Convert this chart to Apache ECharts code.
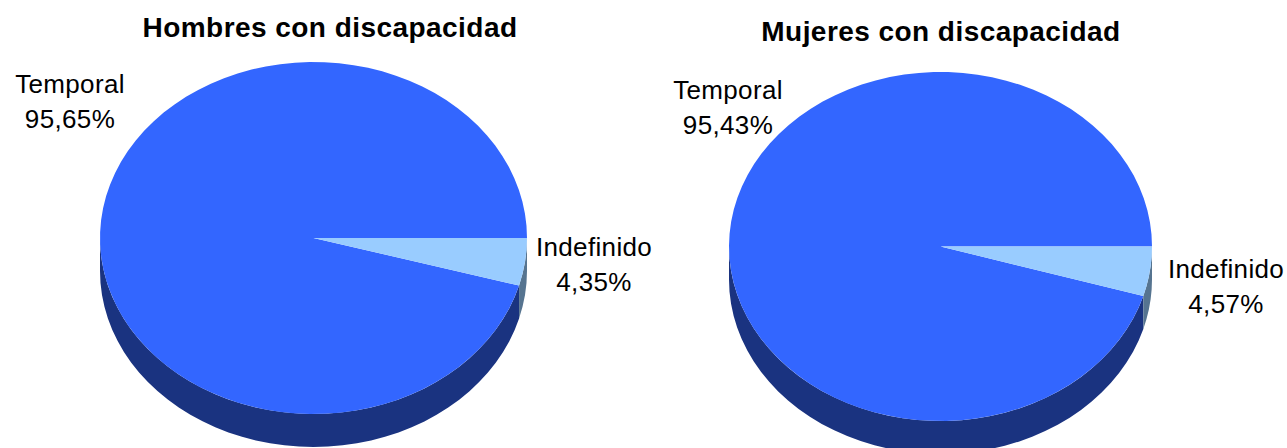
<!DOCTYPE html>
<html>
<head>
<meta charset="utf-8">
<style>
  html, body { margin: 0; padding: 0; background: #fff; }
  #chart { width: 1287px; height: 448px; }
  /* the source text is set a little looser than the font's own spacing */
  #chart text { letter-spacing: 0.35px; }
  #chart text[style*="bold"] { letter-spacing: 0.45px; }
</style>
</head>
<body>
<div id="chart"></div>
<script src="https://cdn.jsdelivr.net/npm/echarts@6/dist/echarts.min.js"></script>
<script>
const categories = ['Temporal', 'Indefinido']
const hombres = [95.65, 4.35]
const mujeres = [95.43, 4.57]
const titles = ['Hombres con discapacidad', 'Mujeres con discapacidad']

const topColors = ['#3366FF', '#99CCFF']
const wallColors = ['#1A3380', '#567490']
const wallDepth = 33

// start each slice so that Indefinido begins at 3 o'clock and runs clockwise
const toRows = (values) => {
  const rest = values[1]
  return [
    [0, rest * 3.6, rest * 3.6 + values[0] * 3.6, values[0]],
    [1, 0, rest * 3.6, values[1]]
  ]
}

// the source pie is faceted, so keep the arc steps fairly coarse
const arcPoints = (api, from, to) => {
  const pts = []
  const steps = Math.max(2, Math.ceil((to - from) / 4))
  for (let i = 0; i <= steps; i++) {
    const a = (from + (to - from) * i / steps) * Math.PI / 180
    pts.push(api.coord([Math.cos(a), -Math.sin(a)]))
  }
  return pts
}

const sliceRenderer = (labelPos) => (params, api) => {
  const idx = api.value(0)
  const from = api.value(1)
  const to = api.value(2)
  const share = api.value(3)
  const center = api.coord([0, 0])
  const children = []

  // side wall, only the lower half can be seen
  const wallTo = Math.min(to, 180)
  if (from < 180) {
    const edge = arcPoints(api, from, wallTo)
    const lower = edge.map(p => [p[0], p[1] + wallDepth]).reverse()
    children.push({
      type: 'polygon',
      shape: { points: edge.concat(lower) },
      style: { fill: wallColors[idx] }
    })
  }
  children.push({
    type: 'polygon',
    shape: { points: [center].concat(arcPoints(api, from, to)) },
    style: { fill: topColors[idx] }
  })
  children.push({
    type: 'text',
    x: labelPos[idx][0],
    y: labelPos[idx][1],
    style: {
      text: categories[idx] + '\n' + share.toFixed(2).replace('.', ',') + '%',
      fill: '#000',
      font: '26px "Liberation Sans", Arial, sans-serif',
      lineHeight: 35,
      align: 'center',
      verticalAlign: 'middle'
    }
  })
  return { type: 'group', children }
}

const chart = echarts.init(document.getElementById('chart'), null, { renderer: 'svg' })
const hiddenAxis = (gridIndex) => ({ type: 'value', min: -1, max: 1, show: false, gridIndex })
const titleStyle = { fontFamily: '"Liberation Sans", Arial, sans-serif', fontSize: 28, fontWeight: 'bold', color: '#000' }

chart.setOption({
  animation: false,
  backgroundColor: '#fff',
  title: [
    { text: titles[0], left: 330, top: 27, textAlign: 'center', textVerticalAlign: 'middle', padding: 0, textStyle: titleStyle },
    { text: titles[1], left: 941, top: 31, textAlign: 'center', textVerticalAlign: 'middle', padding: 0, textStyle: titleStyle }
  ],
  grid: [
    { left: 100, top: 62, width: 427, height: 352 },
    { left: 729, top: 72, width: 423, height: 349 }
  ],
  xAxis: [hiddenAxis(0), hiddenAxis(1)],
  yAxis: [hiddenAxis(0), hiddenAxis(1)],
  series: [
    {
      type: 'custom',
      xAxisIndex: 0,
      yAxisIndex: 0,
      coordinateSystem: 'cartesian2d',
      renderItem: sliceRenderer([[70, 101], [594, 264]]),
      data: toRows(hombres)
    },
    {
      type: 'custom',
      xAxisIndex: 1,
      yAxisIndex: 1,
      coordinateSystem: 'cartesian2d',
      renderItem: sliceRenderer([[728, 107], [1226, 286]]),
      data: toRows(mujeres)
    }
  ]
})
</script>
</body>
</html>
